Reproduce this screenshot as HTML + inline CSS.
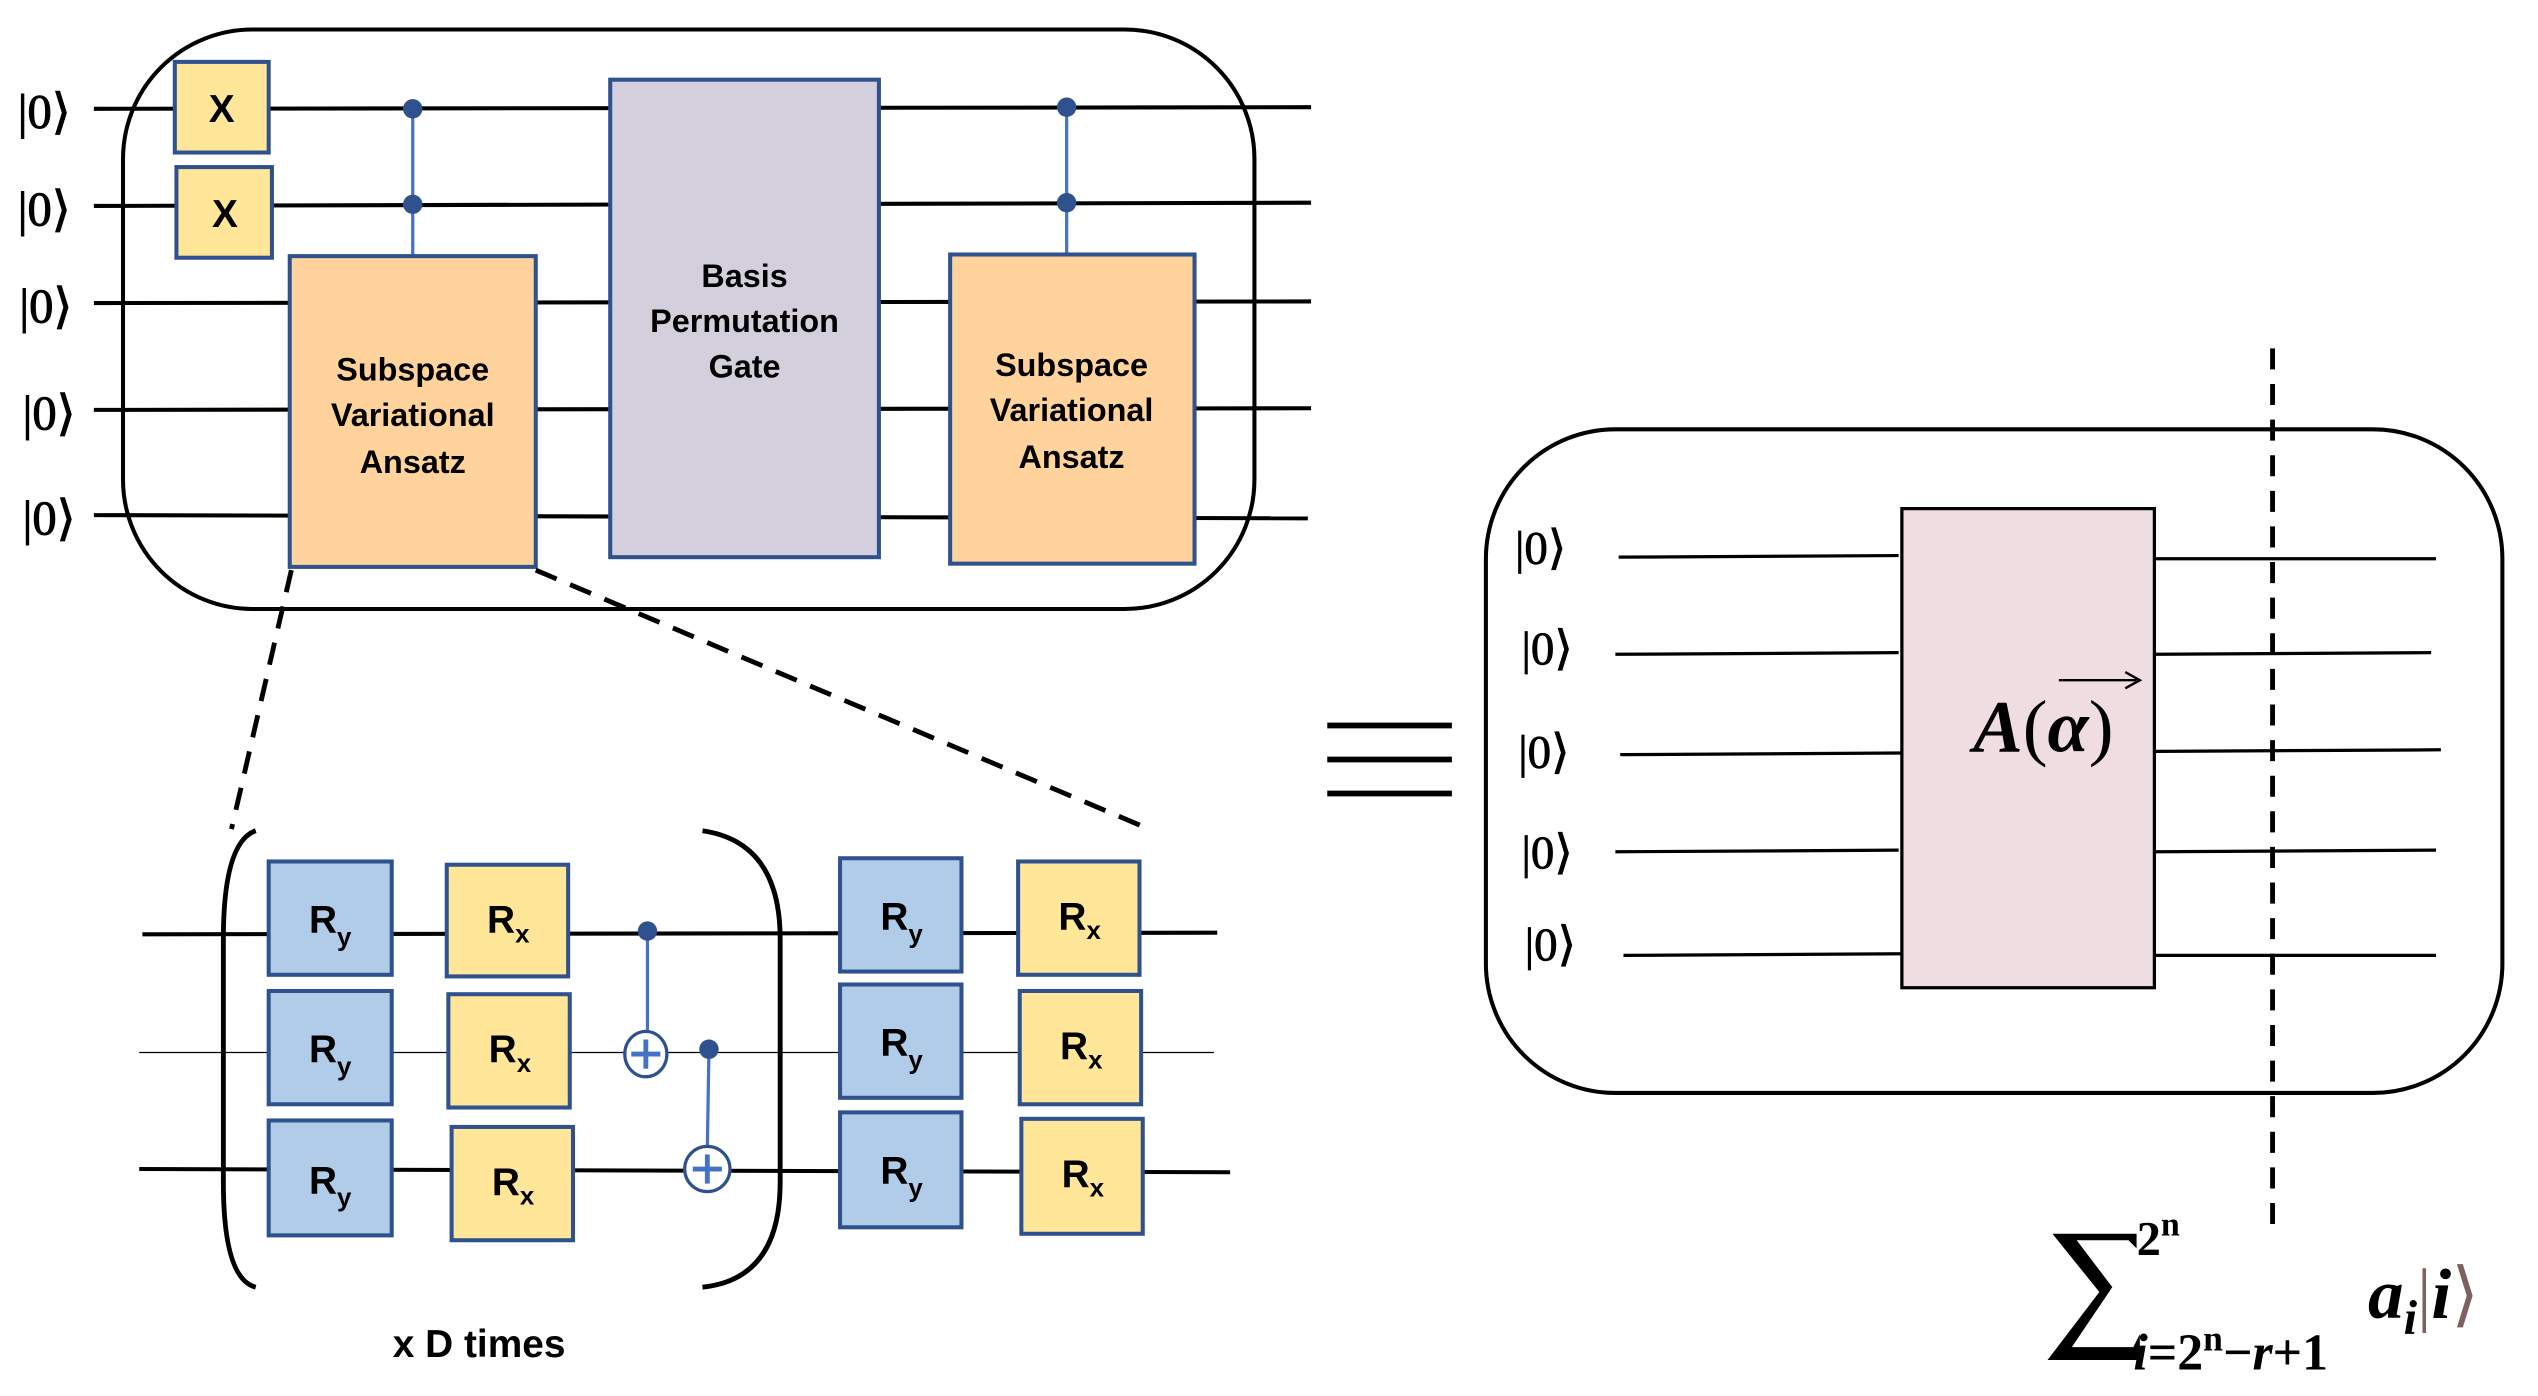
<!DOCTYPE html>
<html><head><style>html,body{margin:0;padding:0;background:#fff}svg{display:block}</style></head>
<body>
<svg width="2538" height="1396" viewBox="0 0 1568 862" xmlns="http://www.w3.org/2000/svg" font-family="Liberation Sans, sans-serif">
<rect width="1568" height="862" fill="#fff"/>
<rect x="76" y="18" width="699" height="358" rx="80" fill="none" stroke="#000" stroke-width="2.5"/>
<g stroke="#000" stroke-width="2.5">
<line x1="58" y1="67" x2="810" y2="66"/>
<line x1="58" y1="127" x2="810" y2="125"/>
<line x1="58" y1="187" x2="810" y2="186"/>
<line x1="58" y1="253" x2="810" y2="252"/>
<line x1="58" y1="318" x2="808" y2="320"/>
</g>
<g font-family="Liberation Serif, serif" font-size="30" fill="#000" stroke="#000" stroke-width="0.6">
<text x="11" y="79">|0⟩</text><text x="11" y="139">|0⟩</text><text x="12" y="199">|0⟩</text><text x="14" y="265">|0⟩</text><text x="14" y="330">|0⟩</text>
</g>
<g stroke="#2f528f" stroke-width="2.5" fill="#ffe699">
<rect x="108" y="38" width="58" height="56"/><rect x="109" y="103" width="59" height="56"/>
</g>
<g font-weight="bold" font-size="24" text-anchor="middle"><text x="137" y="75">X</text><text x="139" y="140">X</text></g>
<line x1="255" y1="67" x2="255" y2="158" stroke="#4472c4" stroke-width="2"/>
<line x1="659" y1="66" x2="659" y2="157" stroke="#4472c4" stroke-width="2"/>
<g fill="#2f528f"><circle cx="255" cy="67" r="6"/><circle cx="255" cy="126" r="6"/><circle cx="659" cy="66" r="6"/><circle cx="659" cy="125" r="6"/></g>
<g stroke="#2f528f" stroke-width="2.5">
<rect x="179" y="158" width="152" height="192" fill="#ffd39b"/>
<rect x="377" y="49" width="166" height="295" fill="#d3cfdd"/>
<rect x="587" y="157" width="151" height="191" fill="#ffd39b"/>
</g>
<g font-weight="bold" font-size="20" text-anchor="middle">
<text x="255" y="235">Subspace</text><text x="255" y="263">Variational</text><text x="255" y="292">Ansatz</text>
<text x="460" y="177">Basis</text><text x="460" y="205">Permutation</text><text x="460" y="233">Gate</text>
<text x="662" y="232">Subspace</text><text x="662" y="260">Variational</text><text x="662" y="289">Ansatz</text>
</g>
<g stroke="#000" stroke-width="3" stroke-dasharray="14,9" fill="none">
<line x1="180" y1="352" x2="143" y2="512"/>
<line x1="331" y1="352" x2="710" y2="512"/>
</g>
<g stroke="#000" stroke-width="2.5" fill="none">
<line x1="88" y1="577" x2="752" y2="576"/>
<line x1="86" y1="650" x2="750" y2="650" stroke-width="0.8"/>
<line x1="86" y1="722" x2="760" y2="724"/>
<path d="M158 513 Q138 520 138 580 L138 730 Q138 790 158 795" stroke-width="3"/>
<path d="M434 513 Q482 520 482 580 L482 730 Q482 790 434 795" stroke-width="3"/>
</g>
<g stroke="#2f528f" stroke-width="2.5">
<g fill="#b0cce9">
<rect x="166" y="532" width="76" height="70"/><rect x="166" y="612" width="76" height="70"/><rect x="166" y="692" width="76" height="71"/>
<rect x="519" y="530" width="75" height="70"/><rect x="519" y="608" width="75" height="70"/><rect x="519" y="687" width="75" height="71"/>
</g>
<g fill="#ffe699">
<rect x="276" y="534" width="75" height="69"/><rect x="277" y="614" width="75" height="70"/><rect x="279" y="696" width="75" height="70"/>
<rect x="629" y="532" width="75" height="70"/><rect x="630" y="612" width="75" height="70"/><rect x="631" y="691" width="75" height="71"/>
</g>
</g>
<g font-weight="bold" font-size="24" text-anchor="middle">
<text x="204" y="576">R<tspan font-size="16" dy="8">y</tspan></text>
<text x="204" y="656">R<tspan font-size="16" dy="8">y</tspan></text>
<text x="204" y="737">R<tspan font-size="16" dy="8">y</tspan></text>
<text x="557" y="574">R<tspan font-size="16" dy="8">y</tspan></text>
<text x="557" y="652">R<tspan font-size="16" dy="8">y</tspan></text>
<text x="557" y="731">R<tspan font-size="16" dy="8">y</tspan></text>
<text x="314" y="576">R<tspan font-size="16" dy="6">x</tspan></text>
<text x="315" y="656">R<tspan font-size="16" dy="6">x</tspan></text>
<text x="317" y="738">R<tspan font-size="16" dy="6">x</tspan></text>
<text x="667" y="574">R<tspan font-size="16" dy="6">x</tspan></text>
<text x="668" y="654">R<tspan font-size="16" dy="6">x</tspan></text>
<text x="669" y="733">R<tspan font-size="16" dy="6">x</tspan></text>
</g>
<g stroke="#4472c4" stroke-width="2" fill="none">
<line x1="400" y1="575" x2="400" y2="637"/>
<line x1="438" y1="648" x2="437" y2="709"/>
</g>
<g fill="#2f528f"><circle cx="400" cy="575" r="6"/><circle cx="438" cy="648" r="6"/></g>
<g stroke="#2f528f" stroke-width="2" fill="#fff"><ellipse cx="399" cy="651" rx="13" ry="14"/><ellipse cx="437" cy="722" rx="14" ry="14"/></g>
<g stroke="#4472c4" stroke-width="3"><line x1="390" y1="651" x2="408" y2="651"/><line x1="399" y1="642" x2="399" y2="660"/><line x1="428" y1="722" x2="446" y2="722"/><line x1="437" y1="713" x2="437" y2="731"/></g>
<text x="296" y="838" font-weight="bold" font-size="24" text-anchor="middle">x D times</text>
<g stroke="#000" stroke-width="3.5"><line x1="820" y1="448" x2="897" y2="448"/><line x1="820" y1="469" x2="897" y2="469"/><line x1="820" y1="490" x2="897" y2="490"/></g>
<rect x="918" y="265" width="628" height="410" rx="80" fill="none" stroke="#000" stroke-width="2.5"/>
<g stroke="#000" stroke-width="2">
<line x1="1000" y1="344" x2="1173" y2="343"/><line x1="998" y1="404" x2="1173" y2="403"/><line x1="1001" y1="466" x2="1175" y2="465"/><line x1="998" y1="526" x2="1173" y2="525"/><line x1="1003" y1="590" x2="1177" y2="589"/>
<line x1="1331" y1="345" x2="1505" y2="345"/><line x1="1328" y1="404" x2="1502" y2="403"/><line x1="1331" y1="464" x2="1508" y2="463"/><line x1="1331" y1="526" x2="1505" y2="525"/><line x1="1331" y1="590" x2="1505" y2="590"/>
</g>
<rect x="1175" y="314" width="156" height="296" fill="#f0dde2" stroke="#000" stroke-width="2"/>
<g font-family="Liberation Serif, serif" font-size="29" fill="#000" stroke="#000" stroke-width="0.5">
<text x="936" y="348">|0⟩</text><text x="940" y="410">|0⟩</text><text x="938" y="474">|0⟩</text><text x="940" y="536">|0⟩</text><text x="942" y="593">|0⟩</text>
</g>
<text x="1219" y="464" font-family="Liberation Serif, serif" font-size="46" font-weight="bold" font-style="italic">A<tspan font-style="normal" font-weight="normal">(</tspan>α<tspan font-style="normal" font-weight="normal">)</tspan></text>
<line x1="1272" y1="420" x2="1320" y2="420" stroke="#000" stroke-width="1.5"/>
<path d="M1313 415 L1322 420 L1313 425" fill="none" stroke="#000" stroke-width="1.5"/>
<line x1="1404" y1="215" x2="1404" y2="765" stroke="#000" stroke-width="3" stroke-dasharray="13,9"/>
<g font-family="Liberation Serif, serif" fill="#000" font-weight="bold">
<path d="M1268 762 L1320 762 L1320 771 L1315 766 L1283 766 L1305 795 L1280 832 L1318 832 L1322 824 L1322 840 L1265 840 L1297 798 Z" fill="#000"/>
<text x="1320" y="775" font-size="30">2<tspan font-size="21" dy="-12">n</tspan></text>
<text x="1318" y="846" font-size="32"><tspan font-style="italic">i</tspan>=2<tspan font-size="22" dy="-12">n</tspan><tspan dy="12">−</tspan><tspan font-style="italic">r</tspan>+1</text>
<text x="1463" y="814" font-size="44" font-style="italic">a<tspan font-size="30" dy="10">i</tspan><tspan dy="-10" fill="#7f6060" font-style="normal" font-weight="normal">|</tspan><tspan>i</tspan><tspan fill="#7f6060" font-style="normal" font-weight="normal">⟩</tspan></text>
</g>
</svg>
</body></html>
